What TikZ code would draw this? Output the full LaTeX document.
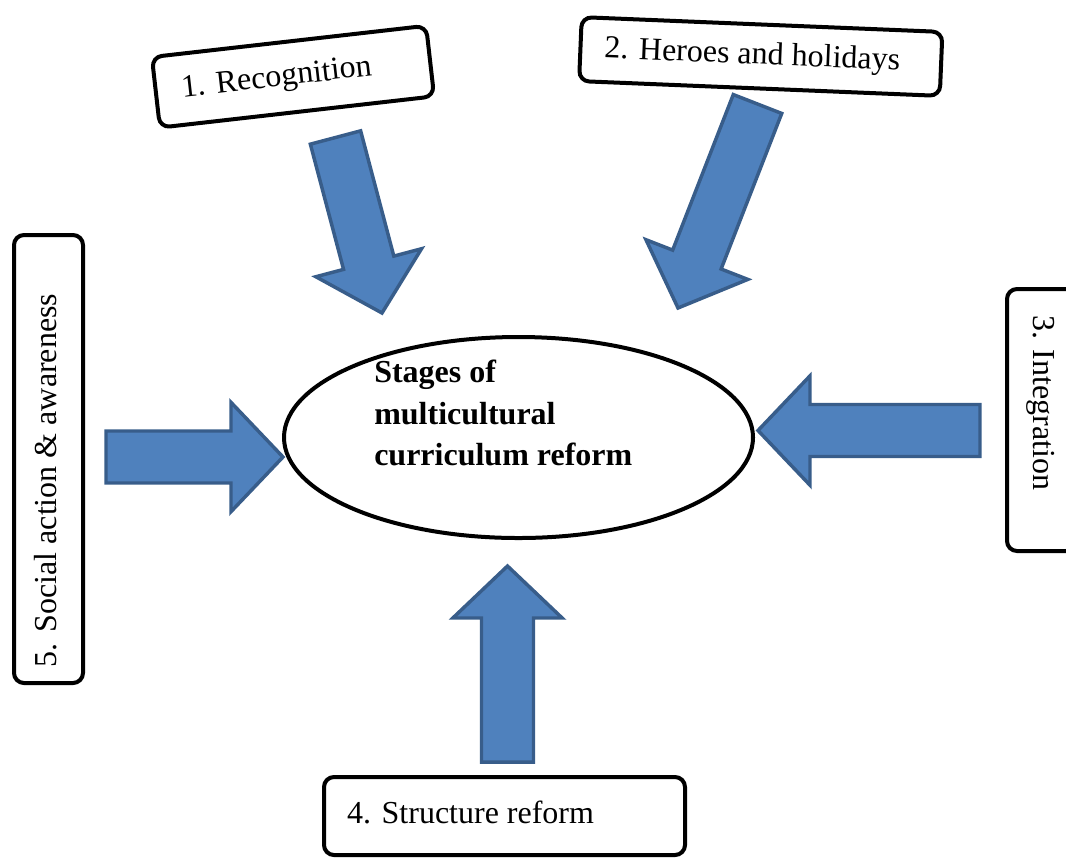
\documentclass[tikz,border=0pt]{standalone}
\usepackage{fontspec}
\setmainfont{Liberation Serif}
\usetikzlibrary{calc,shapes.geometric}
\definecolor{arrowfill}{HTML}{4F81BD}
\definecolor{arrowline}{HTML}{385D8A}

% Block arrow from #1 (tail) to #2 (tip); #3 names the shaft/head junction
\newcommand\blockarrow[3]{%
  \coordinate (#3) at ($(#2)!39pt!(#1)$);
  \draw[fatarrow]
    ($(#1)!19.5pt!90:(#2)$) -- ($(#3)!19.5pt!90:(#2)$) -- ($(#3)!41pt!90:(#2)$)
    -- (#2)
    -- ($(#3)!41pt!-90:(#2)$) -- ($(#3)!19.5pt!-90:(#2)$) -- ($(#1)!19.5pt!-90:(#2)$)
    -- cycle;
}

\begin{document}
\begin{tikzpicture}[x=0.75pt,y=-0.75pt,
  stagebox/.style={draw=black, line width=3pt, rounded corners=7.5pt, fill=white,
    inner xsep=0pt, inner ysep=0pt, align=flush left,
    font=\fontsize{24}{29}\selectfont, text height=16.8pt, text depth=5.3pt},
  fatarrow/.style={fill=arrowfill, draw=arrowline, line width=2.6pt, line join=miter},
  hub/.style={ellipse, draw=black, line width=3pt, inner sep=0pt}]
\useasboundingbox (0,0) rectangle (1066,858);
\clip (0,0) rectangle (1066,858);

% central ellipse and its title
\node[hub, minimum width=351.75pt, minimum height=150.75pt] (hub) at (518.5,437.5) {};
\node[anchor=north west, inner sep=0pt, align=flush left,
  font=\bfseries\fontsize{24}{31.1}\selectfont] (title) at (374,360)
  {Stages of\\multicultural\\curriculum reform};

% the five stages
\node[stagebox, minimum width=207pt, minimum height=53.25pt, text width=168pt, rotate=6.5]
  (recog) at (293,76.7) {1. Recognition};
\node[stagebox, minimum width=270.75pt, minimum height=48pt, text width=234.75pt, rotate=-2.35]
  (heroes) at (760.75,56.5) {2. Heroes and holidays};
\node[stagebox, minimum width=196.5pt, minimum height=51.75pt, text width=157.5pt, rotate=-90]
  (integ) at (1041.5,420) {3. Integration};
\node[stagebox, minimum width=270.75pt, minimum height=58.5pt, text width=236.25pt]
  (struct) at (504.5,816) {4. Structure reform};
\node[stagebox, minimum width=336pt, minimum height=51.75pt, text width=312pt, rotate=90]
  (social) at (48.5,459) {5. Social action \& awareness};

% arrow ends
\coordinate (recogtail) at (335.5,137.5);   \coordinate (recogtip) at (382,313);
\coordinate (heroestail) at (757.5,104);    \coordinate (heroestip) at (678,308);
\coordinate (integtail) at (980,430.5);     \coordinate (integtip) at (758,430.5);
\coordinate (structtail) at (507.5,762);    \coordinate (structtip) at (507.5,566);
\coordinate (socialtail) at (106,457);      \coordinate (socialtip) at (283,457);

\blockarrow{recogtail}{recogtip}{recogjoin}
\blockarrow{heroestail}{heroestip}{heroesjoin}
\blockarrow{integtail}{integtip}{integjoin}
\blockarrow{structtail}{structtip}{structjoin}
\blockarrow{socialtail}{socialtip}{socialjoin}
\end{tikzpicture}
\end{document}
